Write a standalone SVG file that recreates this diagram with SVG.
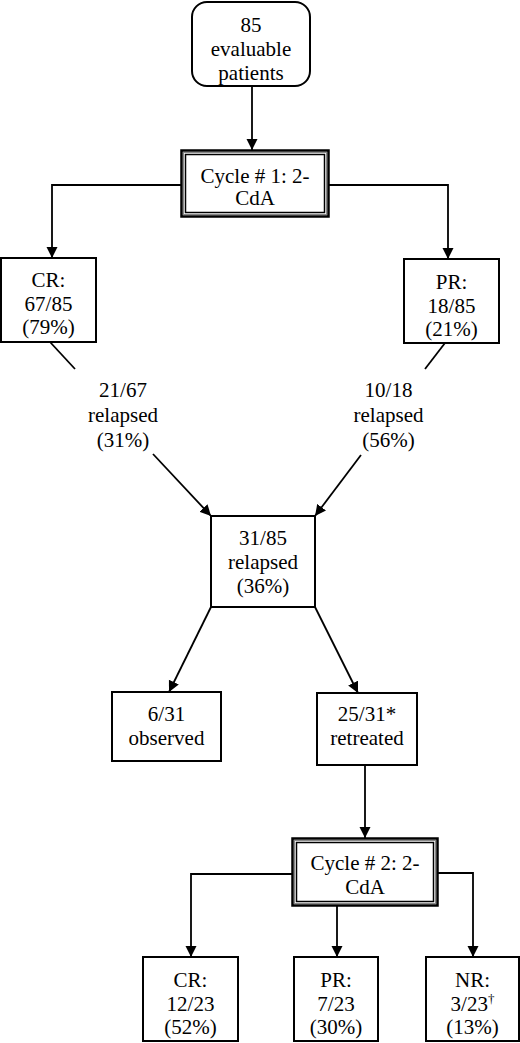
<svg xmlns="http://www.w3.org/2000/svg" width="520" height="1043" viewBox="0 0 520 1043">
<defs>
<marker id="arr" markerUnits="userSpaceOnUse" markerWidth="12" markerHeight="12" refX="11" refY="6" orient="auto">
<path d="M0,0.5 L11,6 L0,11.5 z" fill="#000"/>
</marker>
<style>
.box{fill:#fff;stroke:#000;stroke-width:2}
.outer{fill:#fff;stroke:#000;stroke-width:2.5}
.gap{fill:none;stroke:#888;stroke-width:1}
.inner{fill:none;stroke:#000;stroke-width:1.5}
.c{fill:none;stroke:#000;stroke-width:1.8}
.ca{fill:none;stroke:#000;stroke-width:1.8;marker-end:url(#arr)}
text{font-family:"Liberation Serif","Times New Roman",serif;font-size:21px;fill:#000;text-anchor:middle}
</style>
</defs>
<rect width="520" height="1043" fill="#fff"/>
<g id="connectors">
<line class="ca" x1="252" y1="86" x2="252" y2="150"/>
<polyline class="ca" points="181,185 52,185 52,258"/>
<polyline class="ca" points="329,185 448,185 448,259"/>
<line class="c" x1="50" y1="342" x2="75" y2="369"/>
<line class="ca" x1="153" y1="454" x2="211" y2="516"/>
<line class="c" x1="445" y1="343" x2="425" y2="369"/>
<line class="ca" x1="361" y1="455" x2="315" y2="516"/>
<line class="ca" x1="211" y1="607" x2="169" y2="692"/>
<line class="ca" x1="315" y1="607" x2="358" y2="693"/>
<line class="ca" x1="365" y1="765" x2="365" y2="838"/>
<polyline class="ca" points="292,874 191,874 191,957"/>
<line class="ca" x1="337" y1="906" x2="337" y2="957"/>
<polyline class="ca" points="438,873 473,873 473,957"/>
</g>
<g id="n-start">
<rect class="box" x="192" y="2" width="118" height="84" rx="15"/>
<text x="251" y="32">85</text>
<text x="251" y="56">evaluable</text>
<text x="251" y="80">patients</text>
</g>
<g id="n-cycle1">
<rect class="outer" x="181.5" y="150.5" width="147" height="66"/>
<rect class="gap" x="183.5" y="152.5" width="143" height="62"/>
<rect class="inner" x="185.5" y="154.5" width="139" height="58"/>
<text x="255" y="183">Cycle # 1: 2-</text>
<text x="255" y="205">CdA</text>
</g>
<g id="n-cr1">
<rect class="box" x="1" y="258" width="95" height="84"/>
<text x="48.5" y="287">CR:</text>
<text x="48.5" y="311">67/85</text>
<text x="48.5" y="334">(79%)</text>
</g>
<g id="n-pr1">
<rect class="box" x="404" y="259" width="95" height="84"/>
<text x="451.5" y="289">PR:</text>
<text x="451.5" y="313">18/85</text>
<text x="451.5" y="336">(21%)</text>
</g>
<g id="l-cr-relapse">
<text x="123" y="397">21/67</text>
<text x="123" y="422">relapsed</text>
<text x="123" y="447">(31%)</text>
</g>
<g id="l-pr-relapse">
<text x="388.5" y="397">10/18</text>
<text x="388.5" y="422">relapsed</text>
<text x="388.5" y="447">(56%)</text>
</g>
<g id="n-relapsed">
<rect class="box" x="211" y="516" width="104" height="91"/>
<text x="263" y="545">31/85</text>
<text x="263" y="569">relapsed</text>
<text x="263" y="593">(36%)</text>
</g>
<g id="n-observed">
<rect class="box" x="112" y="692" width="109" height="69"/>
<text x="166.5" y="721">6/31</text>
<text x="166.5" y="745">observed</text>
</g>
<g id="n-retreated">
<rect class="box" x="317" y="693" width="100" height="72"/>
<text x="367" y="721">25/31*</text>
<text x="367" y="745">retreated</text>
</g>
<g id="n-cycle2">
<rect class="outer" x="292.5" y="838.5" width="145" height="67"/>
<rect class="gap" x="294.5" y="840.5" width="141" height="63"/>
<rect class="inner" x="296.5" y="842.5" width="137" height="59"/>
<text x="365" y="870">Cycle # 2: 2-</text>
<text x="365" y="894">CdA</text>
</g>
<g id="n-cr2">
<rect class="box" x="143" y="957" width="95" height="84"/>
<text x="190.5" y="987">CR:</text>
<text x="190.5" y="1011">12/23</text>
<text x="190.5" y="1034">(52%)</text>
</g>
<g id="n-pr2">
<rect class="box" x="294" y="957" width="84" height="84"/>
<text x="336" y="987">PR:</text>
<text x="336" y="1011">7/23</text>
<text x="336" y="1034">(30%)</text>
</g>
<g id="n-nr2">
<rect class="box" x="426" y="957" width="93" height="84"/>
<text x="472.5" y="987">NR:</text>
<text x="472.5" y="1011">3/23<tspan font-size="13" dy="-8">†</tspan></text>
<text x="472.5" y="1034">(13%)</text>
</g>
</svg>
